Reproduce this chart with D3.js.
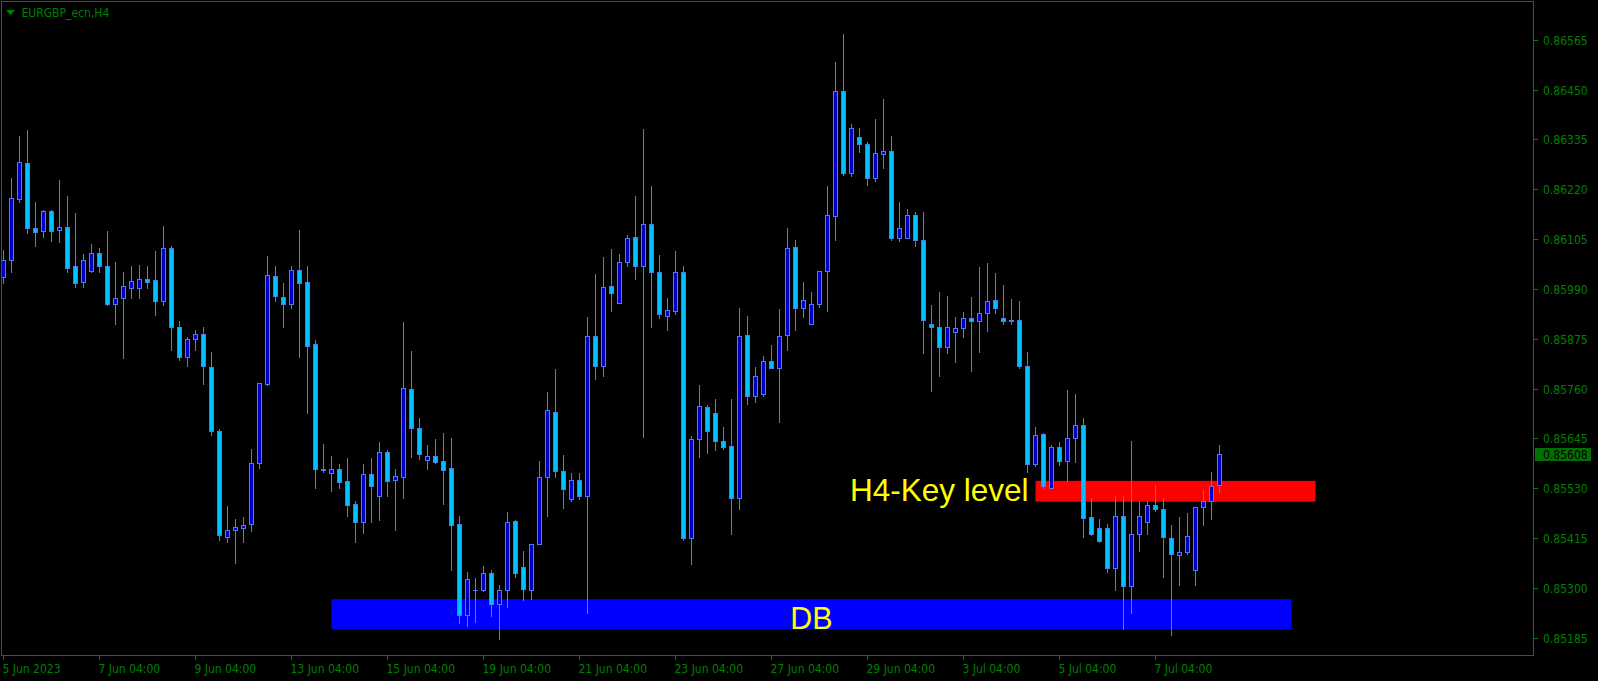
<!DOCTYPE html>
<html><head><meta charset="utf-8">
<script src="https://cdn.jsdelivr.net/npm/d3@7"></script>
<style>html,body{margin:0;padding:0;background:#000;overflow:hidden}</style>
</head><body>
<svg id="chart" width="1598" height="681"></svg>
<script>
// ---------------- data ----------------
const symbolTitle = "EURGBP_ecn,H4";
const opens = [0.86017,0.86056,0.86197,0.86280,0.86130,0.86123,0.86169,0.86125,0.86132,0.86042,
0.86005,0.86032,0.86072,0.86042,0.85955,0.85968,0.85993,0.85991,0.86012,0.86010,
0.85961,0.86084,0.85901,0.85834,0.85874,0.85885,0.85809,0.85662,0.85418,0.85434,
0.85439,0.85447,0.85588,0.85771,0.86019,0.85971,0.85956,0.86033,0.86005,0.85862,
0.85574,0.85565,0.85574,0.85546,0.85494,0.85451,0.85563,0.85511,0.85613,0.85548,
0.85557,0.85758,0.85668,0.85596,0.85604,0.85592,0.85576,0.85448,0.85238,0.85296,
0.85296,0.85334,0.85262,0.85296,0.85454,0.85348,0.85296,0.85401,0.85555,0.85707,
0.85569,0.85504,0.85548,0.85511,0.85881,0.85813,0.85996,0.85957,0.86052,0.86109,
0.86042,0.86139,0.86028,0.85928,0.85940,0.86028,0.85414,0.85643,0.85717,0.85703,
0.85638,0.85627,0.85508,0.85883,0.85744,0.85748,0.85823,0.85808,0.85883,0.86086,
0.85947,0.85910,0.85955,0.86031,0.86159,0.86446,0.86258,0.86340,0.86324,0.86247,
0.86301,0.86308,0.86108,0.86108,0.86160,0.86102,0.85908,0.85902,0.85857,0.85890,
0.85899,0.85922,0.85915,0.85934,0.85964,0.85922,0.85918,0.85918,0.85812,0.85585,
0.85655,0.85531,0.85625,0.85592,0.85645,0.85675,0.85463,0.85438,0.85438,0.85347,
0.85465,0.85305,0.85424,0.85451,0.85491,0.85481,0.85415,0.85375,0.85382,0.85341,
0.85486,0.85500,0.85537];
const highs = [0.86080,0.86245,0.86343,0.86357,0.86190,0.86172,0.86172,0.86242,0.86205,0.86165,
0.86070,0.86093,0.86084,0.86124,0.86052,0.86028,0.86043,0.86045,0.86043,0.86078,
0.86135,0.86089,0.85916,0.85880,0.85895,0.85902,0.85845,0.85666,0.85489,0.85459,
0.85464,0.85621,0.85773,0.86066,0.86043,0.86004,0.86043,0.86126,0.86043,0.85872,
0.85632,0.85605,0.85586,0.85600,0.85501,0.85586,0.85600,0.85637,0.85618,0.85574,
0.85914,0.85847,0.85692,0.85630,0.85644,0.85658,0.85646,0.85466,0.85337,0.85323,
0.85351,0.85341,0.85306,0.85476,0.85457,0.85385,0.85401,0.85593,0.85752,0.85806,
0.85607,0.85565,0.85565,0.85925,0.86024,0.86064,0.86082,0.86071,0.86115,0.86204,
0.86359,0.86228,0.86068,0.85969,0.86078,0.86043,0.85650,0.85768,0.85722,0.85736,
0.85671,0.85736,0.85945,0.85927,0.85809,0.85835,0.85861,0.85944,0.86131,0.86103,
0.86006,0.85983,0.86031,0.86227,0.86514,0.86578,0.86371,0.86362,0.86329,0.86382,
0.86428,0.86343,0.86191,0.86175,0.86168,0.86168,0.85953,0.85983,0.85974,0.85925,
0.85937,0.85971,0.86041,0.86050,0.86027,0.85999,0.85966,0.85962,0.85845,0.85671,
0.85658,0.85629,0.85636,0.85757,0.85748,0.85692,0.85508,0.85459,0.85448,0.85512,
0.85512,0.85639,0.85501,0.85501,0.85538,0.85508,0.85445,0.85464,0.85473,0.85486,
0.85526,0.85567,0.85630];
const lows = [0.86004,0.86028,0.86191,0.86118,0.86088,0.86111,0.86101,0.86099,0.86030,0.85995,
0.85995,0.86028,0.86028,0.85954,0.85910,0.85831,0.85968,0.85968,0.85991,0.85930,
0.85953,0.85849,0.85826,0.85813,0.85849,0.85771,0.85654,0.85411,0.85407,0.85358,
0.85407,0.85432,0.85577,0.85768,0.85961,0.85901,0.85947,0.85834,0.85704,0.85531,
0.85568,0.85524,0.85531,0.85466,0.85407,0.85427,0.85453,0.85457,0.85513,0.85434,
0.85508,0.85601,0.85598,0.85575,0.85589,0.85494,0.85342,0.85218,0.85212,0.85221,
0.85292,0.85234,0.85181,0.85256,0.85326,0.85271,0.85274,0.85401,0.85466,0.85555,
0.85485,0.85501,0.85505,0.85242,0.85783,0.85788,0.85938,0.85957,0.86044,0.86014,
0.85649,0.85901,0.85924,0.85896,0.85931,0.85411,0.85354,0.85601,0.85612,0.85619,
0.85621,0.85425,0.85483,0.85725,0.85728,0.85744,0.85807,0.85683,0.85848,0.85896,
0.85926,0.85910,0.85949,0.85940,0.86104,0.86254,0.86251,0.86305,0.86231,0.86238,
0.86270,0.86104,0.86101,0.86108,0.86090,0.85843,0.85755,0.85788,0.85841,0.85822,
0.85880,0.85801,0.85845,0.85894,0.85935,0.85910,0.85908,0.85808,0.85568,0.85582,
0.85531,0.85531,0.85584,0.85546,0.85590,0.85418,0.85423,0.85407,0.85337,0.85296,
0.85204,0.85241,0.85386,0.85425,0.85477,0.85326,0.85192,0.85307,0.85378,0.85307,
0.85444,0.85458,0.85521];
const closes = [0.86056,0.86199,0.86282,0.86130,0.86121,0.86169,0.86123,0.86132,0.86039,0.86004,
0.86056,0.86072,0.86044,0.85955,0.85968,0.85996,0.86008,0.86012,0.86007,0.85961,
0.86084,0.85901,0.85834,0.85874,0.85885,0.85811,0.85663,0.85421,0.85433,0.85440,
0.85445,0.85588,0.85772,0.86022,0.85974,0.85956,0.86033,0.86004,0.85859,0.85575,
0.85571,0.85574,0.85545,0.85492,0.85451,0.85563,0.85536,0.85613,0.85547,0.85558,
0.85761,0.85668,0.85608,0.85604,0.85591,0.85573,0.85444,0.85238,0.85320,0.85296,
0.85334,0.85262,0.85296,0.85451,0.85334,0.85298,0.85401,0.85555,0.85710,0.85569,
0.85529,0.85548,0.85511,0.85881,0.85813,0.85994,0.85981,0.86052,0.86107,0.86042,
0.86139,0.86030,0.85933,0.85941,0.86028,0.85414,0.85643,0.85719,0.85663,0.85638,
0.85624,0.85508,0.85881,0.85744,0.85788,0.85823,0.85808,0.85881,0.86084,0.85947,
0.85964,0.85955,0.86031,0.86160,0.86446,0.86258,0.86361,0.86324,0.86247,0.86303,
0.86308,0.86108,0.86130,0.86160,0.86104,0.85919,0.85902,0.85857,0.85902,0.85899,
0.85922,0.85915,0.85934,0.85962,0.85947,0.85917,0.85917,0.85811,0.85585,0.85652,
0.85534,0.85625,0.85592,0.85645,0.85675,0.85462,0.85425,0.85408,0.85347,0.85465,
0.85305,0.85424,0.85465,0.85491,0.85481,0.85417,0.85378,0.85382,0.85419,0.85486,
0.85500,0.85535,0.85608];
const priceTicks = [0.85185,0.85300,0.85415,0.85530,0.85645,0.85760,0.85875,0.85990,0.86105,0.86220,0.86335,0.86450,0.86565];
const timeLabels = ["5 Jun 2023","7 Jun 04:00","9 Jun 04:00","13 Jun 04:00","15 Jun 04:00","19 Jun 04:00","21 Jun 04:00","23 Jun 04:00","27 Jun 04:00","29 Jun 04:00","3 Jul 04:00","5 Jul 04:00","7 Jul 04:00"];
const timeLabelBars = [0,12,24,36,48,60,72,84,96,108,120,132,144];
const lastPrice = 0.85608;
const zoneNames = ["H4-Key level","DB"];
const zoneStartBar = [129,41];
const zoneEndBar = [164,161];
const zoneTop = [0.85547,0.85274];
const zoneBottom = [0.85499,0.85204];

// ---------------- drawing ----------------
const W = 1598, H = 681;
const plotL = 1.5, plotT = 1.5, plotR = 1533.5, plotB = 655.5;
const FG = "#008000";
const axisFont = "'DejaVu Sans Condensed','DejaVu Sans',sans-serif";

const svg = d3.select("#chart");
svg.append("rect").attr("width",W).attr("height",H).attr("fill","#000");

const nBars = opens.length;
const x = d3.scaleLinear().domain([0, nBars-1]).range([3.5, 3.5 + 8*(nBars-1)]);
const y = d3.scaleLinear().domain([0.85185, 0.86565]).range([637.7, 39.8]);

const bars = d3.range(nBars).map(i => ({i, o:opens[i], h:highs[i], l:lows[i], c:closes[i]}));

// zones (behind candles)
const zoneColors = ["#ff0000","#0000ff"];
const zones = zoneNames.map((n,k)=>({n, s:zoneStartBar[k], e:zoneEndBar[k], t:zoneTop[k], b:zoneBottom[k], col:zoneColors[k]}));
svg.append("g").selectAll("rect").data(zones).join("rect")
  .attr("x", d => x(d.s)).attr("width", d => x(d.e)-x(d.s))
  .attr("y", d => y(d.t)).attr("height", d => y(d.b)-y(d.t))
  .attr("fill", d => d.col);

// zone texts
const txt = svg.append("g").attr("font-family","'Liberation Sans',Arial,sans-serif").attr("fill","#ffff00");
txt.append("text").attr("x", x(zones[0].s) - 7).attr("y", y(zones[0].b)-1)
  .attr("text-anchor","end").attr("font-size",31.5).text(zones[0].n);
txt.append("text").attr("x", x(101)).attr("y", y(zones[1].b)-0.5)
  .attr("text-anchor","middle").attr("font-size",30.5).text(zones[1].n);

// candles
const WICK = "#4a7df2";
const cg = svg.append("g").attr("shape-rendering","crispEdges");
bars.forEach(d => {
  const cx = Math.round(x(d.i) - 0.5) + 0.5;
  cg.append("line").attr("x1",cx).attr("x2",cx)
    .attr("y1",Math.round(y(d.h))).attr("y2",Math.round(y(d.l))+1)
    .attr("stroke",WICK).attr("stroke-width",1);
  const top = Math.round(y(Math.max(d.o,d.c)));
  const bot = Math.round(y(Math.min(d.o,d.c)));
  const bull = d.c > d.o;
  if (bot - top < 1) {
    cg.append("line").attr("x1",cx-2.5).attr("x2",cx+2.5).attr("y1",top+0.5).attr("y2",top+0.5)
      .attr("stroke",WICK).attr("stroke-width",1);
  } else {
    cg.append("rect").attr("x",cx-2).attr("y",top+0.5).attr("width",4).attr("height",bot-top)
      .attr("fill", bull ? "#0000cd" : "#00bfff").attr("stroke",WICK).attr("stroke-width",1);
  }
});

// frame
const fg = svg.append("g").attr("shape-rendering","crispEdges");
fg.append("rect").attr("x",plotL).attr("y",plotT).attr("width",plotR-plotL).attr("height",plotB-plotT)
  .attr("fill","none").attr("stroke",FG).attr("stroke-width",1);

// title
svg.append("polygon").attr("points","6,10 15,10 10.5,15").attr("fill",FG);
svg.append("text").attr("x",21.5).attr("y",16.5).attr("font-family",axisFont).attr("font-size",12)
  .attr("fill",FG).text(symbolTitle);

// price axis
const ya = svg.append("g").attr("font-family",axisFont).attr("font-size",12).attr("fill",FG);
priceTicks.forEach(p => {
  const yy = Math.round(y(p)) + 0.5;
  fg.append("line").attr("x1",plotR).attr("x2",plotR+4).attr("y1",yy).attr("y2",yy).attr("stroke",FG);
  ya.append("text").attr("x",1543).attr("y",yy).attr("dy","0.36em").text(p.toFixed(5));
});
// last price tag
const ly = Math.round(y(lastPrice));
svg.append("rect").attr("x",1535).attr("y",ly-6).attr("width",56).attr("height",13).attr("fill","#007000");
svg.append("text").attr("x",1543).attr("y",ly+0.5).attr("dy","0.36em").attr("font-family",axisFont)
  .attr("font-size",12).attr("fill","#000").text(lastPrice.toFixed(5));

// time axis
const xa = svg.append("g").attr("font-family",axisFont).attr("font-size",12).attr("fill",FG);
timeLabelBars.forEach((b,k) => {
  const xx = Math.round(x(b) - 0.5) + 0.5;
  fg.append("line").attr("x1",xx).attr("x2",xx).attr("y1",plotB).attr("y2",plotB+4).attr("stroke",FG);
  xa.append("text").attr("x",xx-1).attr("y",672.5).text(timeLabels[k]);
});
</script>
</body></html>
